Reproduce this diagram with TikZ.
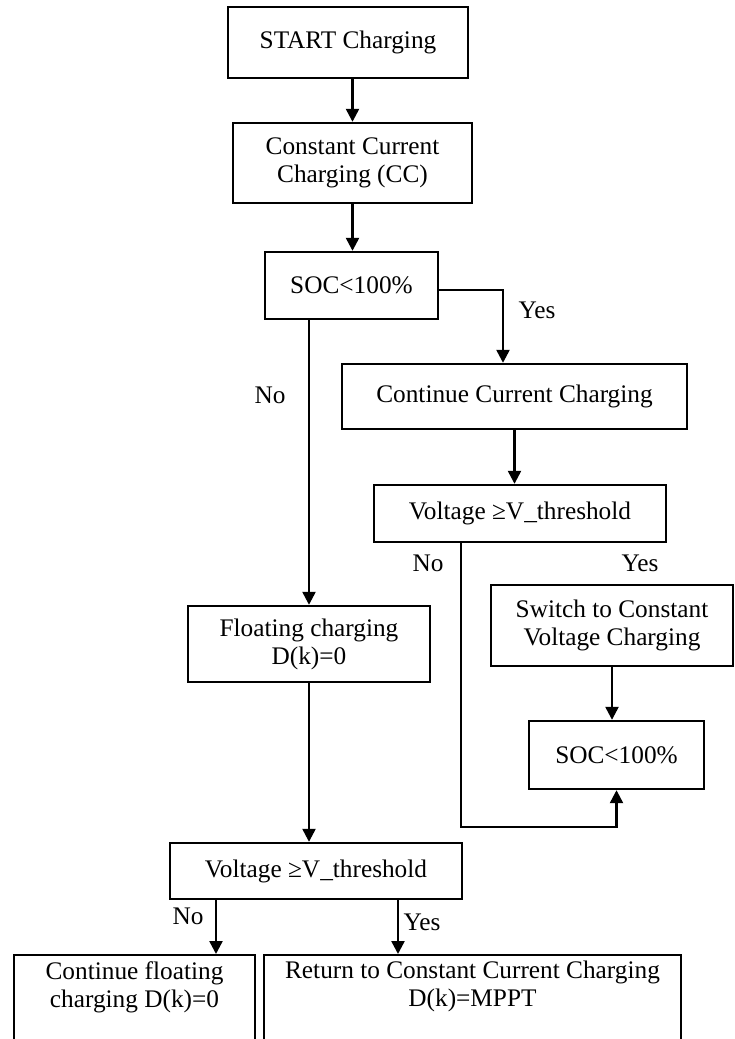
\documentclass[tikz,border=0pt]{standalone}
\usepackage{fontspec}
\setmainfont{Liberation Serif}
\usetikzlibrary{arrows.meta,calc}
\tikzset{
  >={Triangle[length=6.5pt,width=6.5pt]},
  font=\fontsize{12.65}{14}\selectfont,
  box/.style={draw=black,line width=1.2pt,align=center,inner sep=2pt},
  openbox/.style={box,anchor=north,inner ysep=3pt,text depth=60pt},
  flow/.style={->,line width=1.2pt,draw=black},
  lbl/.style={inner sep=1pt},
}

\begin{document}
\begin{tikzpicture}[x=0.5pt,y=-0.5pt]
  \useasboundingbox (0,0) rectangle (734,1039);

  % main column
  \node[box,minimum width=120pt,minimum height=35.5pt] (start) at (348,42.5) {START Charging};
  \node[box,minimum width=119.5pt,minimum height=40pt] (cc) at (352.5,163) {Constant Current\\Charging (CC)};
  \node[box,minimum width=86.5pt,minimum height=33.5pt] (soc) at (351.5,285.5) {SOC<100\%};
  \node[box,minimum width=121pt,minimum height=38pt] (flt) at (309,644) {Floating charging\\D(k)=0};
  \node[box,minimum width=146pt,minimum height=28pt] (vth2) at (316,871) {Voltage ≥V\_threshold};

  % right branch
  \node[box,minimum width=172.5pt,minimum height=32.5pt] (ccc) at (514.5,396.5) {Continue Current Charging};
  \node[box,minimum width=146pt,minimum height=28.5pt] (vth1) at (520,513.5) {Voltage ≥V\_threshold};
  \node[box,minimum width=121pt,minimum height=40.5pt] (cv) at (612,625.5) {Switch to Constant\\Voltage Charging};
  \node[box,minimum width=87.5pt,minimum height=34pt] (soc2) at (616.5,755) {SOC<100\%};

  % bottom row
  \node[openbox,minimum width=120.5pt] (cfl) at (134.5,954) {Continue floating\\charging D(k)=0};
  \node[openbox,minimum width=208.5pt] (ret) at (472.5,954) {Return to Constant Current Charging\\D(k)=MPPT};

  % labels
  \node[lbl] (yes1) at (537,310) {Yes};
  \node[lbl] (no1) at (270,395) {No};
  \node[lbl] (no2) at (428,563) {No};
  \node[lbl] (yes2) at (640,563) {Yes};
  \node[lbl] (no3) at (188,916) {No};
  \node[lbl] (yes3) at (422,922) {Yes};

  \coordinate (yesj) at (503,290);
  \coordinate (fbk) at (461,827);
  \coordinate (nox) at (216,899);
  \coordinate (yesx) at (398,899);

  \draw[flow] (start.south -| cc.north) -- (cc.north);
  \draw[flow] (cc.south) -- (cc.south |- soc.north);
  \draw[flow] (soc.east |- yesj) -| (yesj |- ccc.north);
  \draw[flow] (soc.south -| flt.north) -- (flt.north);
  \draw[flow] (ccc.south) -- (ccc.south |- vth1.north);
  \draw[flow] (cv.south) -- (cv.south |- soc2.north);
  \draw[flow] (vth1.south -| fbk) -- (fbk) -| (soc2.south);
  \draw[flow] (flt.south) -- (flt.south |- vth2.north);
  \draw[flow] (vth2.south -| nox) -- (nox |- cfl.north);
  \draw[flow] (vth2.south -| yesx) -- (yesx |- ret.north);
\end{tikzpicture}
\end{document}
